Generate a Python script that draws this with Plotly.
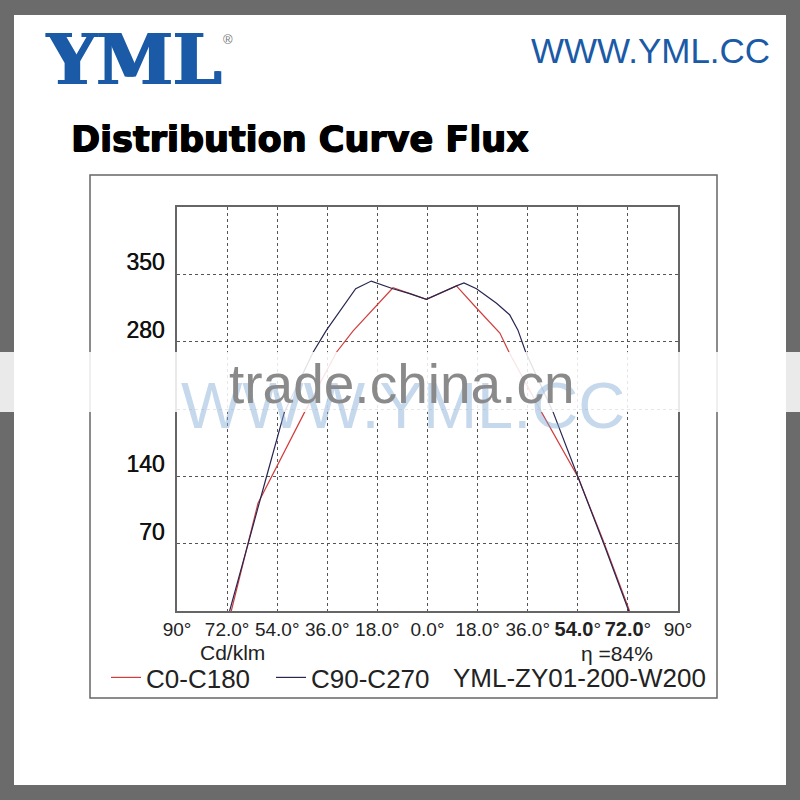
import plotly.graph_objects as go

# ---- data ----
c0_angles = [-70.5, -60.9, -44.1, -32.7, -26.8, -12.4, -0.4, 10.4, 17.6, 26.0, 29.3, 40.9, 54.1, 63.0, 72.6]
c0_values = [0, 112, 207, 269, 291, 336, 324, 338, 315, 289, 269, 207, 139, 74, 0]

c90_angles = [-71.1, -65.0, -58.0, -51.4, -41.1, -36.3, -25.8, -20.2, -12.4, -6.4, -0.4,
              10.4, 13.1, 17.6, 24.8, 29.5, 32.5, 35.3, 45.1, 54.1, 63.7, 72.3]
c90_values = [0, 65, 138, 207, 269, 292, 335, 343, 335, 330, 324,
              338, 341, 335, 320, 308, 292, 269, 207, 139, 67, 0]

x_tickvals = [-90, -72, -54, -36, -18, 0, 18, 36, 54, 72, 90]
x_ticktext = ["90°", "72.0°", "54.0°", "36.0°", "18.0°", "0.0°", "18.0°", "36.0°",
              "<span style='font-size:20px'><b>54.0</b></span>°",
              "<span style='font-size:20px'><b>72.0</b></span>°", "90°"]
y_tickvals = [70, 140, 210, 280, 350]
y_ticktext = ["70", "140", "", "280", "350"]

series_names = ["C0-C180", "C90-C270"]
model_name = "YML-ZY01-200-W200"

RED = "#d23c3c"
NAVY = "#262650"
BLUE = "#1a5aa6"

# ---- pixel helpers for layout placement (plot area 177..678 x 207..611) ----
L, R, T, B = 177, 678, 207, 611
def px(x):
    return (x - L) / (R - L)
def py(y):
    return (B - y) / (B - T)

fig = go.Figure()
fig.add_trace(go.Scatter(x=c0_angles, y=c0_values, mode="lines", name=series_names[0],
                         line=dict(color=RED, width=1.2)))
fig.add_trace(go.Scatter(x=c90_angles, y=c90_values, mode="lines", name=series_names[1],
                         line=dict(color=NAVY, width=1.2)))

shapes = [
    # white card
    dict(type="rect", xref="paper", yref="paper", x0=px(14), x1=px(786), y0=py(15), y1=py(785),
         fillcolor="white", line=dict(width=0), layer="below"),
    # chart frame
    dict(type="rect", xref="paper", yref="paper", x0=px(90), x1=px(717), y0=py(175), y1=py(698),
         fillcolor="rgba(0,0,0,0)", line=dict(color="#666666", width=1.5), layer="below"),
    # watermark band
    dict(type="rect", xref="paper", yref="paper", x0=px(0), x1=px(800), y0=py(352), y1=py(412),
         fillcolor="rgba(255,255,255,0.86)", line=dict(width=0), layer="above"),
]

annotations = [
    dict(text="YML", x=px(44), y=py(60), xref="paper", yref="paper", xanchor="left", yanchor="middle",
         showarrow=False, font=dict(family="DejaVu Serif", size=69, color=BLUE, weight="bold",
                                    shadow=f"1.5px 0 0 {BLUE}, -1px 0 0 {BLUE}")),
    dict(text="®", x=px(228), y=py(39), xref="paper", yref="paper", xanchor="center", yanchor="middle",
         showarrow=False, font=dict(family="Liberation Sans", size=13, color="#777777")),
    dict(text="WWW.YML.CC", x=px(772), y=py(50.5), xref="paper", yref="paper", xanchor="right",
         yanchor="middle", showarrow=False, font=dict(family="Liberation Sans", size=35, color=BLUE)),
    dict(text="Distribution Curve Flux", x=px(69), y=py(139.4), xref="paper", yref="paper",
         xanchor="left", yanchor="middle", showarrow=False,
         font=dict(family="DejaVu Sans", size=35, color="black", weight="bold",
                   shadow="0.8px 0 0 #000, -0.6px 0 0 #000, 0 0.5px 0 #000")),
    dict(text="Cd/klm", x=px(232), y=py(652), xref="paper", yref="paper", xanchor="center",
         yanchor="middle", showarrow=False, font=dict(family="Liberation Sans", size=21, color="#222222")),
    dict(text="η =84%", x=px(617), y=py(653), xref="paper", yref="paper", xanchor="center",
         yanchor="middle", showarrow=False, font=dict(family="Liberation Sans", size=21, color="#222222")),
    dict(text=model_name, x=px(451), y=py(677.5), xref="paper", yref="paper", xanchor="left",
         yanchor="middle", showarrow=False, font=dict(family="Liberation Sans", size=26, color="#222222")),
    # watermarks
    dict(text="WWW.YML.CC", x=px(403), y=py(405), xref="paper", yref="paper", xanchor="center",
         yanchor="middle", showarrow=False, opacity=0.45,
         font=dict(family="Liberation Sans", size=65, color="#7fa9d6")),
    dict(text="trade.china.cn", x=px(402), y=py(383.7), xref="paper", yref="paper", xanchor="center",
         yanchor="middle", showarrow=False,
         font=dict(family="Liberation Sans", size=55, color="#8a8a8a")),
]

fig.update_layout(
    width=800, height=800,
    margin=dict(l=L, r=800 - R, t=T, b=800 - B, pad=0),
    paper_bgcolor="#6b6b6b",
    plot_bgcolor="white",
    shapes=shapes,
    annotations=annotations,
    showlegend=True,
    legend=dict(orientation="h", x=px(106), y=py(677.5), xanchor="left", yanchor="middle",
                bgcolor="rgba(0,0,0,0)", font=dict(family="Liberation Sans", size=26, color="#222222"),
                itemwidth=30, entrywidth=120, entrywidthmode="pixels"),
)
fig.update_xaxes(range=[-90, 90], tickvals=x_tickvals, ticktext=x_ticktext,
                 showgrid=True, gridcolor="#555555", griddash="dot", gridwidth=1,
                 zeroline=False, showline=True, mirror=True, linecolor="#666666", linewidth=1.5,
                 ticks="", ticklabelstandoff=0,
                 tickfont=dict(family="Liberation Sans", size=19, color="#222222"))
fig.update_yaxes(range=[0, 420], tickvals=y_tickvals, ticktext=y_ticktext,
                 showgrid=True, gridcolor="#555555", griddash="dot", gridwidth=1,
                 zeroline=False, showline=True, mirror=True, linecolor="#666666", linewidth=1.5,
                 ticks="", ticklabelshift=-12, ticklabelstandoff=6,
                 tickfont=dict(family="Liberation Sans", size=23, color="#111111",
                               shadow="0.4px 0 0 #111"))

fig.write_html("out.html", config={"displayModeBar": False},
               post_script="document.body.style.margin='0px';")
